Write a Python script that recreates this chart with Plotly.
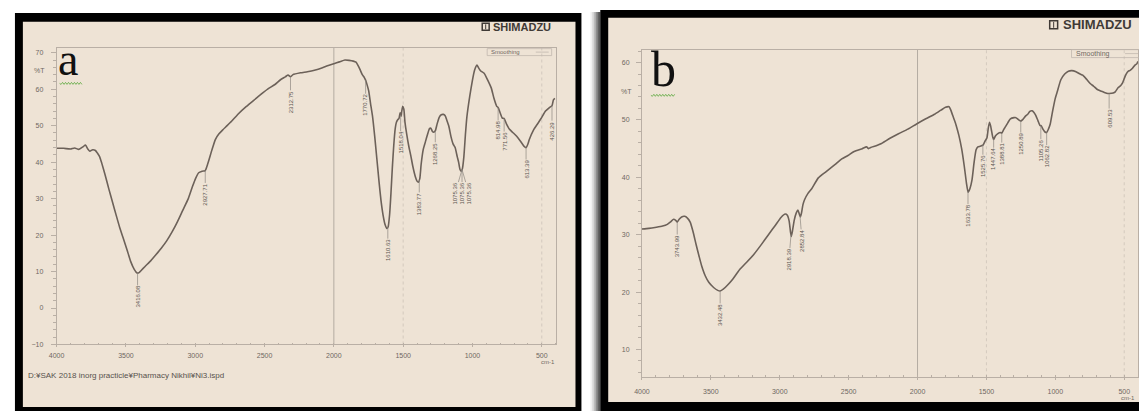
import numpy as np
import plotly.graph_objects as go

W, H = 1139, 414

# ---- Spectrum a: wavenumber (cm-1) and %T ----
wn_a = [4000, 3950, 3900, 3870, 3840, 3810, 3792, 3775, 3760, 3740, 3720, 3706, 3690, 3675,
        3650, 3623, 3595, 3570, 3545, 3518, 3490, 3466, 3440, 3420, 3405, 3390, 3362, 3320,
        3284, 3245, 3206, 3165, 3128, 3090, 3050, 3020, 2998, 2975, 2950, 2928, 2910, 2880,
        2855, 2830, 2803, 2770, 2738, 2690, 2633, 2580, 2529, 2475, 2425, 2385, 2350, 2330,
        2313, 2295, 2240, 2191, 2140, 2087, 2040, 2000, 1960, 1920, 1890, 1860, 1840, 1825,
        1810, 1795, 1780, 1771, 1760, 1749, 1735, 1720, 1705, 1690, 1675, 1660, 1645, 1630,
        1618, 1608, 1598, 1588, 1578, 1568, 1558, 1548, 1538, 1530, 1522, 1515, 1510, 1503,
        1495, 1487, 1475, 1460, 1445, 1430, 1412, 1400, 1390, 1380, 1370, 1355, 1340, 1325,
        1310, 1300, 1290, 1280, 1268, 1255, 1240, 1225, 1210, 1198, 1185, 1170, 1155, 1140,
        1125, 1110, 1100, 1090, 1080, 1072, 1062, 1050, 1040, 1020, 1000, 985, 968, 955, 940,
        916, 890, 864, 845, 825, 815, 800, 785, 772, 755, 733, 705, 681, 655, 629, 613, 600,
        590, 560, 525, 500, 473, 447, 426, 416, 405]
t_a = [43.8, 43.8, 43.6, 43.9, 43.5, 44.2, 44.7, 43.6, 43.0, 43.4, 43.2, 42.5, 41.5, 39.8,
       36.5, 32.6, 28.8, 25.4, 22.1, 19.0, 15.7, 12.8, 10.6, 9.6, 9.7, 10.3, 11.4, 13.0,
       14.6, 16.4, 18.4, 21.0, 23.7, 26.8, 30.0, 33.3, 35.5, 37.1, 37.5, 37.7, 39.5, 43.3,
       46.2, 47.7, 48.8, 50.0, 51.2, 53.2, 55.2, 56.9, 58.5, 60.1, 61.3, 62.6, 63.4, 63.9,
       63.4, 64.0, 64.5, 64.8, 65.2, 65.8, 66.5, 67.0, 67.5, 68.0, 67.9, 67.7, 67.4, 66.5,
       65.3, 64.0, 63.2, 62.5, 61.2, 59.6, 56.0, 52.3, 47.0, 41.0, 35.0, 29.5, 25.5, 22.8,
       21.8, 22.3, 25.5, 31.5, 38.5, 44.5, 49.0, 51.0, 51.7, 52.0, 53.5, 52.6, 54.0, 55.3,
       54.5, 51.0, 47.8, 44.5, 41.8, 38.8, 36.0, 34.8, 34.5, 35.5, 39.5, 43.5, 45.5, 47.5,
       49.2, 49.3, 48.5, 48.2, 48.6, 50.5, 52.3, 53.0, 53.1, 52.8, 51.5, 49.8, 47.0, 45.0,
       44.0, 41.5, 40.0, 38.0, 37.5, 38.3, 41.5, 48.0, 52.5, 58.0, 62.5, 65.2, 66.6, 65.8,
       65.0, 64.4, 62.5, 60.3, 57.5, 55.3, 55.0, 53.5, 52.1, 52.0, 50.5, 49.0, 48.0, 47.1,
       45.8, 44.4, 44.0, 45.0, 46.2, 48.8, 50.8, 52.3, 54.0, 54.9, 55.5, 57.1, 57.5]

# ---- Spectrum b ----
wn_b = [4000, 3950, 3895, 3850, 3816, 3790, 3770, 3755, 3744, 3730, 3712, 3690, 3670, 3650,
        3630, 3607, 3585, 3567, 3540, 3515, 3480, 3450, 3432, 3410, 3380, 3340, 3292, 3240,
        3187, 3130, 3082, 3030, 2991, 2960, 2945, 2932, 2922, 2916, 2908, 2895, 2880, 2868,
        2858, 2850, 2842, 2832, 2820, 2795, 2768, 2720, 2663, 2600, 2550, 2505, 2460, 2401,
        2370, 2355, 2340, 2300, 2270, 2200, 2138, 2070, 2007, 1940, 1876, 1830, 1797, 1771,
        1760, 1745, 1730, 1719, 1700, 1680, 1660, 1645, 1633, 1620, 1605, 1590, 1575, 1562,
        1545, 1525, 1510, 1496, 1487, 1478, 1470, 1462, 1454, 1447, 1435, 1417, 1400, 1389,
        1375, 1365, 1345, 1326, 1300, 1286, 1265, 1251, 1235, 1215, 1200, 1185, 1168, 1155,
        1142, 1125, 1110, 1103, 1090, 1075, 1063, 1050, 1037, 1020, 1000, 985, 960, 932, 905,
        880, 850, 820, 801, 770, 745, 723, 695, 665, 644, 620, 609, 580, 565, 545, 525, 513,
        500, 486, 470, 460, 440, 420, 408, 400]
t_b = [31.0, 31.1, 31.3, 31.5, 31.8, 32.3, 32.7, 32.5, 32.2, 32.7, 33.1, 33.2, 32.9, 32.2,
       30.6, 28.3, 26.2, 24.6, 22.8, 21.7, 20.8, 20.3, 20.2, 20.5, 21.2, 22.3, 23.9, 25.2,
       26.6, 28.4, 30.0, 31.7, 33.0, 33.6, 33.4, 32.4, 30.5, 29.7, 30.6, 32.5, 33.8, 34.3,
       33.6, 33.1, 33.8, 35.2, 36.1, 37.2, 38.0, 39.9, 41.0, 42.2, 43.2, 43.8, 44.5, 45.0,
       45.3, 45.0, 45.2, 45.5, 45.8, 46.8, 47.6, 48.4, 49.3, 50.2, 51.0, 51.7, 52.2, 52.3,
       51.8, 50.8, 49.8, 49.0, 47.3, 45.0, 41.8, 39.0, 37.4, 38.0, 39.5, 42.5, 44.8, 45.3,
       45.4, 45.6, 46.3, 46.9, 48.5, 49.6, 49.0, 48.0, 47.0, 46.6, 47.2, 47.6, 47.8, 47.7,
       48.3, 48.7, 49.5, 50.2, 50.4, 50.4, 50.0, 49.8, 50.1, 50.7, 51.0, 51.5, 51.6, 51.3,
       50.8, 49.8, 49.0, 49.0, 48.4, 47.9, 47.8, 48.4, 49.3, 51.5, 53.8, 55.0, 57.0, 58.0,
       58.5, 58.6, 58.4, 58.0, 57.8, 57.0, 56.3, 55.9, 55.3, 55.0, 54.8, 54.6, 54.6, 54.7,
       54.9, 55.6, 56.0, 56.4, 57.2, 58.0, 58.5, 58.6, 59.0, 59.6, 59.8, 60.2]

# ---- Peak labels: (text, wavenumber, x offset px, stem+half-text offset px) ----
peaks_a = [("3416.08", 3416.08, 0, 24), ("2927.71", 2927.71, 0, 24), ("2312.75", 2312.75, 0, 25),
           ("1770.72", 1770.72, 0, 25), ("1610.63", 1610.63, 0, 23), ("1518.04", 1518.04, 0, 28),
           ("1383.77", 1383.77, 0, 24), ("1268.25", 1268.25, 0, 23), ("1075.36", 1075.36, -7, 24),
           ("1075.36", 1075.36, 0, 24), ("1075.36", 1075.36, 7, 24), ("814.98", 814.98, 0, 23),
           ("771.56", 771.56, 0, 23), ("613.39", 613.39, 0, 22), ("426.29", 426.29, 0, 25)]
peaks_b = [("3743.99", 3743.99, 0, 24), ("3432.48", 3432.48, 0, 24), ("2918.39", 2918.39, -2, 25),
           ("2852.84", 2852.84, 2, 25), ("1633.78", 1633.78, 0, 24), ("1525.76", 1525.76, 0, 21),
           ("1447.64", 1447.64, 0, 20), ("1388.81", 1388.81, 0, 21), ("1250.89", 1250.89, 0, 23),
           ("1105.26", 1105.26, 0, 25), ("1062.82", 1062.82, 0, 24), ("609.53", 609.53, 0, 25)]

x_ticks = [4000, 3500, 3000, 2500, 2000, 1500, 1000, 500]
y_ticks_a = [70, 60, 50, 40, 30, 20, 10, 0, -10]
y_ticks_b = [60, 50, 40, 30, 20, 10]

PAPER = "#eee3d5"
INK = "#6c6159"
AXIS = "#b9afa5"
LABEL = "#6e6862"


def px(x):
    return x / W


def py(y):
    return 1 - y / H


fig = go.Figure()
fig.add_trace(go.Scatter(x=wn_a, y=t_a, mode="lines", xaxis="x", yaxis="y",
                         line=dict(color=INK, width=1.6, shape="spline", smoothing=0.5),
                         showlegend=False, hoverinfo="skip"))
fig.add_trace(go.Scatter(x=wn_b, y=t_b, mode="lines", xaxis="x2", yaxis="y2",
                         line=dict(color=INK, width=1.6, shape="spline", smoothing=0.5),
                         showlegend=False, hoverinfo="skip"))

shapes = []
# scanned sheets with black frames
shapes.append(dict(type="rect", xref="paper", yref="paper", x0=px(7), x1=px(578), y0=py(414), y1=py(13),
                   fillcolor="black", line_width=0, layer="below"))
shapes.append(dict(type="rect", xref="paper", yref="paper", x0=px(15), x1=px(572), y0=py(410), y1=py(22),
                   fillcolor=PAPER, line_width=0, layer="below"))
# soft shadow left of the second frame
for i, a in enumerate([0.08, 0.15, 0.25, 0.4, 0.6]):
    shapes.append(dict(type="rect", xref="paper", yref="paper", x0=px(587 + 2 * i), x1=px(597),
                       y0=py(414), y1=py(12), fillcolor=f"rgba(60,60,60,{a})", line_width=0, layer="below"))
shapes.append(dict(type="rect", xref="paper", yref="paper", x0=px(597), x1=px(1145), y0=py(414), y1=py(10),
                   fillcolor="black", line_width=0, layer="below"))
shapes.append(dict(type="rect", xref="paper", yref="paper", x0=px(605), x1=px(1145), y0=py(405), y1=py(18),
                   fillcolor=PAPER, line_width=0, layer="below"))

# grid lines at 2000 (solid) and 1500 / 500 (dotted)
for xr, yr in (("x", "y domain"), ("x2", "y2 domain")):
    shapes.append(dict(type="line", xref=xr, yref=yr, x0=2000, x1=2000, y0=0, y1=1,
                       line=dict(color="#a69d94", width=0.8), layer="below"))
    for g in (1500, 500):
        shapes.append(dict(type="line", xref=xr, yref=yr, x0=g, x1=g, y0=0, y1=1,
                           line=dict(color="#cdc3b8", width=0.8, dash="dot"), layer="below"))

# "Smoothing" legend boxes
for x0, x1, y0, y1 in ((483, 548, 49, 56), (1072, 1142, 50, 58)):
    shapes.append(dict(type="rect", xref="paper", yref="paper", x0=px(x0), x1=px(x1), y0=py(y1), y1=py(y0),
                       line=dict(color="#c2b8ae", width=0.8), fillcolor="rgba(0,0,0,0)"))
    shapes.append(dict(type="line", xref="paper", yref="paper", x0=px(x1 - 16), x1=px(x1 - 3),
                       y0=py((y0 + y1) / 2), y1=py((y0 + y1) / 2), line=dict(color="#c2b8ae", width=0.8)))

# Shimadzu logo squares
for x0, yc, s in ((478, 27, 7), (1050, 25, 8)):
    shapes.append(dict(type="rect", xref="paper", yref="paper", x0=px(x0), x1=px(x0 + s),
                       y0=py(yc + s / 2), y1=py(yc - s / 2),
                       line=dict(color="#3f3a36", width=1.5), fillcolor="rgba(0,0,0,0)"))
    shapes.append(dict(type="line", xref="paper", yref="paper", x0=px(x0 + s / 2), x1=px(x0 + s / 2),
                       y0=py(yc + s / 2 - 1), y1=py(yc - s / 2 + 1), line=dict(color="#3f3a36", width=1)))


# green squiggles under panel letters
def squiggle(x0, x1, y):
    n = int((x1 - x0) / 1.5)
    path = f"M {px(x0)},{py(y)}"
    for i in range(1, n + 1):
        yy = y + (1.0 if i % 2 else -1.0)
        path += f" L {px(x0 + i * 1.5)},{py(yy)}"
    return dict(type="path", xref="paper", yref="paper", path=path, line=dict(color="#5aa83c", width=0.8))


shapes.append(squiggle(52, 75, 84))
shapes.append(squiggle(648, 673, 96))

annotations = []
lab_font = dict(family="Liberation Sans", size=6, color="#5b5550")


def add_peaks(peaks, wn, t, xr, yr):
    wn_inc = np.array(wn[::-1], dtype=float)
    t_inc = np.array(t[::-1], dtype=float)
    for text, w, ax, ay in peaks:
        yv = float(np.interp(w, wn_inc, t_inc))
        annotations.append(dict(x=w, y=yv, xref=xr, yref=yr, text=text, textangle=-90,
                                showarrow=True, arrowhead=0, arrowwidth=0.7, arrowcolor="#8d867f",
                                ax=ax, ay=ay, standoff=0, font=lab_font, borderpad=0))


add_peaks(peaks_a, wn_a, t_a, "x", "y")
add_peaks(peaks_b, wn_b, t_b, "x2", "y2")

small = dict(family="Liberation Sans", size=7, color=LABEL)
tiny = dict(family="Liberation Sans", size=6, color=LABEL)


def note(x, y, text, font, xanchor="center", yanchor="middle", xref="paper"):
    return dict(x=x, y=y, xref=xref, yref="paper", text=text, showarrow=False,
                xanchor=xanchor, yanchor=yanchor, font=font)


annotations += [
    note(px(60), py(88), "a", dict(family="Liberation Serif", size=46, color="#111111"), yanchor="bottom"),
    note(px(661), py(100), "b", dict(family="Liberation Serif", size=50, color="#111111"), yanchor="bottom"),
    note(px(32), py(71), "%T", small),
    note(px(623), py(92), "%T", small),
    dict(x=500, y=py(365), xref="x", yref="paper", text="cm-1", showarrow=False, xshift=6,
         xanchor="center", yanchor="middle", font=tiny),
    dict(x=500, y=py(401), xref="x2", yref="paper", text="cm-1", showarrow=False, xshift=4,
         xanchor="center", yanchor="middle", font=tiny),
    note(px(18), py(378), "D:¥SAK 2018 inorg practicle¥Pharmacy Nikhil¥Ni3.ispd",
         dict(family="Liberation Sans", size=8, color="#57524d"), xanchor="left"),
    note(px(487), py(27), "<b>SHIMADZU</b>", dict(family="Liberation Sans", size=11, color="#3f3a36"),
         xanchor="left"),
    note(px(1061), py(25), "<b>SHIMADZU</b>", dict(family="Liberation Sans", size=13, color="#3f3a36"),
         xanchor="left"),
    note(px(485), py(52.5), "Smoothing", dict(family="Liberation Sans", size=6, color="#6e6862"),
         xanchor="left"),
    note(px(1074), py(54), "Smoothing", dict(family="Liberation Sans", size=7, color="#6e6862"),
         xanchor="left"),
]

xcommon = dict(range=[4000, 400], tickvals=x_ticks, showline=True, mirror=True, linecolor=AXIS,
               linewidth=0.8, ticks="outside", ticklen=2, tickcolor=AXIS, showgrid=False, zeroline=False,
               tickfont=small, minor=dict(dtick=100, ticks="inside", ticklen=2, tickcolor=AXIS))
ycommon = dict(showline=True, mirror=True, linecolor=AXIS, linewidth=0.8, ticks="outside", ticklen=5,
               tickcolor=AXIS, showgrid=False, zeroline=False, tickfont=small,
               minor=dict(dtick=2, ticks="outside", ticklen=3, tickcolor=AXIS))

fig.update_layout(
    width=W, height=H, margin=dict(l=0, r=0, t=0, b=0),
    paper_bgcolor="white", plot_bgcolor="rgba(0,0,0,0)",
    xaxis=dict(domain=[px(49), px(552)], anchor="y", ticklabelstandoff=2, **xcommon),
    yaxis=dict(domain=[py(347), py(48)], range=[-10, 71.4], tickvals=y_ticks_a, anchor="x",
               ticklabelstandoff=6, **ycommon),
    xaxis2=dict(domain=[px(639), 1.0], anchor="y2", ticklabelstandoff=5, **xcommon),
    yaxis2=dict(domain=[py(380), py(50)], range=[5.16, 62.25], tickvals=y_ticks_b, anchor="x2",
                ticklabelstandoff=5, **ycommon),
    shapes=shapes,
    annotations=annotations,
)

fig.write_html("out.html")
